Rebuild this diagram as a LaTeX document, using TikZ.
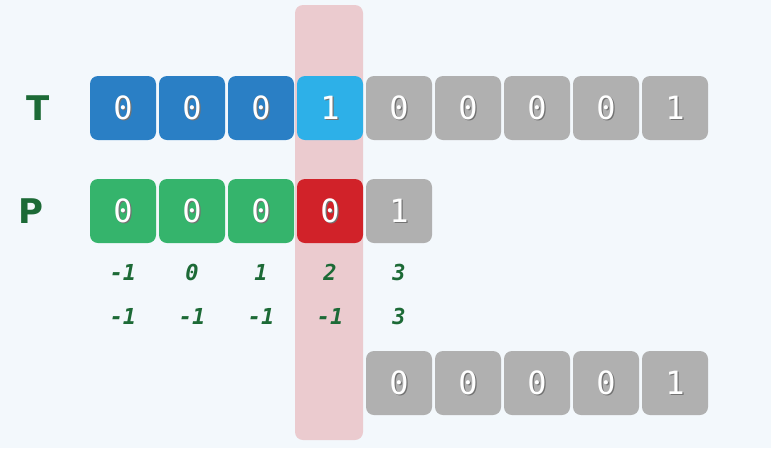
\documentclass[tikz,border=0pt]{standalone}
\usepackage{fontspec}
\setmonofont{DejaVu Sans Mono}
\setsansfont{DejaVu Sans}
\newcommand{\shd}[1]{\rlap{\kern1.2pt\raisebox{-1.2pt}{\color{black!55}#1}}#1}
\begin{document}
\begin{tikzpicture}[x=1pt,y=-1pt,
  cell/.style={rounded corners=8pt, minimum width=66pt, minimum height=64pt, inner sep=0pt,
    font=\ttfamily\fontsize{32}{32}\selectfont, text=white},
  dblue/.style={cell, fill=cdblue},
  lblue/.style={cell, fill=clblue},
  grey/.style={cell, fill=cgrey},
  green/.style={cell, fill=cgreen},
  red/.style={cell, fill=cred},
  idx/.style={font=\ttfamily\bfseries\itshape\fontsize{22}{22}\selectfont, text=cdgreen},
  rowlab/.style={font=\sffamily\bfseries\fontsize{34}{34}\selectfont, text=cdgreen}]
\definecolor{cbg}{HTML}{F3F8FC}
\definecolor{cdblue}{HTML}{2A7FC5}
\definecolor{clblue}{HTML}{2DB0E8}
\definecolor{cgrey}{HTML}{B0B0B0}
\definecolor{cgreen}{HTML}{35B46C}
\definecolor{cred}{HTML}{D12229}
\definecolor{cdgreen}{HTML}{1C6A36}
\definecolor{chl}{HTML}{EBCBCF}
\fill[cbg] (0,0) rectangle (771,448);
\useasboundingbox (0,0) rectangle (771,448);
\fill[chl, rounded corners=8pt] (295,5) rectangle (363,440);
% T row
\node[rowlab] (labT) at (38,108) {T};
\node[dblue] (t1) at (123,108) {\shd{0}};
\node[dblue] (t2) at (192,108) {\shd{0}};
\node[dblue] (t3) at (261,108) {\shd{0}};
\node[lblue] (t4) at (330,108) {\shd{1}};
\node[grey] (t5) at (399,108) {\shd{0}};
\node[grey] (t6) at (468,108) {\shd{0}};
\node[grey] (t7) at (537,108) {\shd{0}};
\node[grey] (t8) at (606,108) {\shd{0}};
\node[grey] (t9) at (675,108) {\shd{1}};
% P row
\node[rowlab] (labP) at (31,211) {P};
\node[green] (p1) at (123,211) {\shd{0}};
\node[green] (p2) at (192,211) {\shd{0}};
\node[green] (p3) at (261,211) {\shd{0}};
\node[red] (p4) at (330,211) {\shd{0}};
\node[grey] (p5) at (399,211) {\shd{1}};
% index rows
\node[idx] (a1) at (123,272) {-1};
\node[idx] (a2) at (192,272) {0};
\node[idx] (a3) at (261,272) {1};
\node[idx] (a4) at (330,272) {2};
\node[idx] (a5) at (399,272) {3};
\node[idx] (b1) at (123,316) {-1};
\node[idx] (b2) at (192,316) {-1};
\node[idx] (b3) at (261,316) {-1};
\node[idx] (b4) at (330,316) {-1};
\node[idx] (b5) at (399,316) {3};
% bottom row
\node[grey] (q1) at (399,383) {\shd{0}};
\node[grey] (q2) at (468,383) {\shd{0}};
\node[grey] (q3) at (537,383) {\shd{0}};
\node[grey] (q4) at (606,383) {\shd{0}};
\node[grey] (q5) at (675,383) {\shd{1}};
\end{tikzpicture}
\end{document}
